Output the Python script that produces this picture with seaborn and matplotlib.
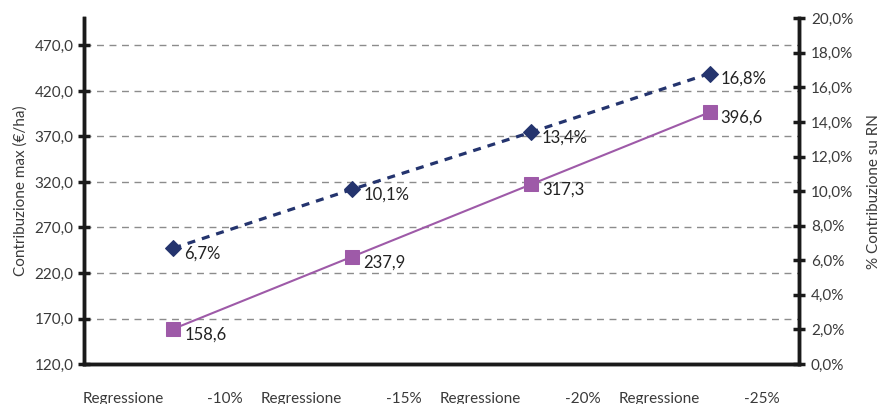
import pandas as pd
import seaborn as sns
import matplotlib.pyplot as plt
from matplotlib.ticker import FuncFormatter
import matplotlib.transforms as mtransforms

categories = ["-10%", "-15%", "-20%", "-25%"]
contribuzione = [158.6, 237.9, 317.3, 396.6]     # €/ha, left axis
perc_rn = [6.7, 10.1, 13.4, 16.8]                # %, right axis

purple = "#9e5aa8"
navy = "#24346e"
text_col = "#3a3a3a"

sns.set_style("white")
plt.rcParams['font.family'] = ['Lato', 'DejaVu Sans']

df = pd.DataFrame({"pos": range(len(categories)), "cat": categories,
                   "contrib": contribuzione, "perc": perc_rn})

fig = plt.figure(figsize=(8.83, 4.04), dpi=100)
ax = fig.add_axes([0.0951, 0.099, 0.8098, 0.856])

# grid lines (left axis ticks)
for v in range(170, 471, 50):
    ax.axhline(v, color="#8c8c8c", lw=1, dashes=(5, 4), zorder=0)

sns.lineplot(data=df, x="pos", y="contrib", ax=ax, color=purple, lw=1.5,
             marker="s", markersize=10, markeredgecolor=purple, zorder=3)
ax.set_xlim(-0.5, 3.5)
ax.set_ylim(120, 500)
ax.set_yticks(range(120, 471, 50))
ax.yaxis.set_major_formatter(FuncFormatter(lambda v, p: f"{v:.1f}".replace(".", ",")))
ax.set_xticks([0.5, 1.5, 2.5, 3.5])
ax.set_xticklabels([])
ax.set_xlabel("")
ax.set_ylabel("Contribuzione max (€/ha)", fontsize=11, color=text_col, labelpad=5)

for x, y in zip(df["pos"], df["contrib"]):
    ax.annotate(f"{y:.1f}".replace(".", ","), (x, y), xytext=(8, -4), textcoords="offset points",
                ha="left", va="center", fontsize=12, color="#222222")

ax2 = ax.twinx()
sns.lineplot(data=df, x="pos", y="perc", ax=ax2, color=navy, lw=2.3,
             marker="D", markersize=8, markeredgecolor=navy, zorder=3)
ax2.lines[-1].set_dashes((2.5, 2.2))
ax2.set_ylim(0, 20)
ax2.set_yticks(range(0, 21, 2))
ax2.yaxis.set_major_formatter(FuncFormatter(lambda v, p: f"{v:.1f}%".replace(".", ",")))
ax2.set_ylabel("% Contribuzione su RN", fontsize=11, color=text_col, labelpad=10)
ax2.set_xlim(-0.5, 3.5)
ax2.set_xlabel("")

for x, y in zip(df["pos"], df["perc"]):
    ax2.annotate(f"{y:.1f}%".replace(".", ","), (x, y), xytext=(8, -4), textcoords="offset points",
                 ha="left", va="center", fontsize=12, color="#222222")

for a in (ax, ax2):
    for s in a.spines.values():
        s.set_color("#1a1a1a")
        s.set_linewidth(2.5)
    a.spines["top"].set_visible(False)
    a.tick_params(axis="both", direction="inout", length=9, width=2.5, color="#1a1a1a",
                  labelsize=11, labelcolor=text_col)
    a.grid(False)
ax.tick_params(axis="y", pad=3)
ax2.tick_params(axis="y", pad=4)

# category labels below the axis
trans = mtransforms.blended_transform_factory(ax.transData, ax.transAxes)
for i, cat in enumerate(categories):
    ax.text(i - 0.51, -0.1, "Regressione", transform=trans, ha="left", va="center",
            fontsize=11, color=text_col)
    ax.text(i + 0.39, -0.1, cat, transform=trans, ha="right", va="center",
            fontsize=11, color=text_col)

fig.savefig("out.png", dpi=100)
